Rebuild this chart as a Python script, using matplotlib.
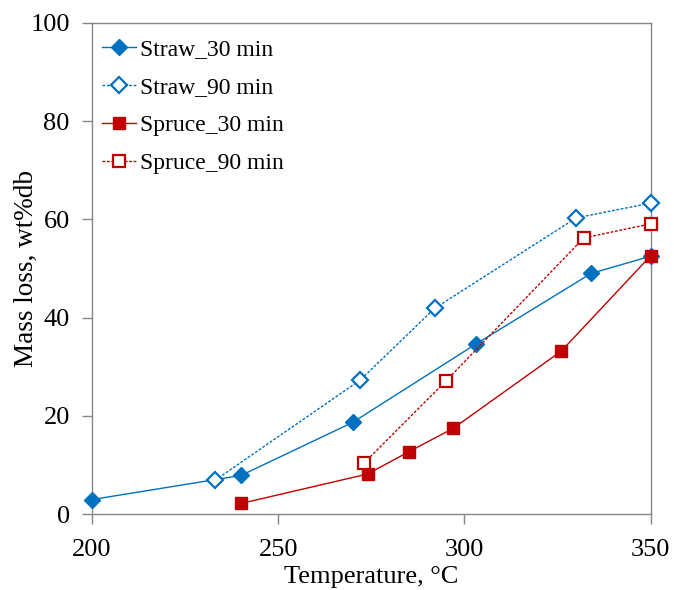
import matplotlib
matplotlib.use("Agg")
import matplotlib.pyplot as plt

# torrefaction mass loss vs temperature
straw30_t = [200, 240, 270, 303, 334, 350]
straw30_loss = [3.0, 7.9, 18.7, 34.6, 49.0, 52.5]

straw90_t = [233, 272, 292, 330, 350]
straw90_loss = [6.9, 27.3, 41.9, 60.3, 63.3]

spruce30_t = [240, 274, 285, 297, 326, 350]
spruce30_loss = [2.2, 8.2, 12.7, 17.5, 33.2, 52.6]

spruce90_t = [273, 295, 332, 350]
spruce90_loss = [10.4, 27.1, 56.2, 59.1]

xticks = [200, 250, 300, 350]
yticks = [0, 20, 40, 60, 80, 100]

blue = "#0070C0"
red = "#C00000"
axis_grey = "#868686"

plt.rcParams["font.family"] = ["Liberation Serif", "DejaVu Serif"]

fig = plt.figure(figsize=(6.74, 5.90), dpi=100)
ax = fig.add_axes([92 / 674, 1 - 514.3 / 590, 558.7 / 674, 491.6 / 590])

ax.plot(straw30_t, straw30_loss, color=blue, lw=1.0, marker="D", ms=8,
        mfc=blue, mec=blue, label="Straw_30 min", clip_on=False, zorder=3)
ax.plot(straw90_t, straw90_loss, color=blue, lw=1.0, ls=(0, (2, 1.2)), marker="D",
        ms=8, mfc="white", mec=blue, mew=1.6, label="Straw_90 min", clip_on=False, zorder=3)
ax.plot(spruce30_t, spruce30_loss, color=red, lw=1.0, marker="s", ms=9,
        mfc=red, mec=red, label="Spruce_30 min", clip_on=False, zorder=3)
ax.plot(spruce90_t, spruce90_loss, color=red, lw=1.0, ls=(0, (2, 1.2)), marker="s",
        ms=9, mfc="white", mec=red, mew=1.6, label="Spruce_90 min", clip_on=False, zorder=3)

ax.set_xlim(200, 350)
ax.set_ylim(0, 100)
ax.set_xticks(xticks)
ax.set_yticks(yticks)
ax.tick_params(axis="both", direction="out", length=7, width=1, color=axis_grey,
               labelsize=19)
ax.tick_params(axis="x", pad=11)
ax.tick_params(axis="y", pad=9)
for side in ["left", "bottom", "top", "right"]:
    ax.spines[side].set_color(axis_grey)
    ax.spines[side].set_linewidth(1.0)

ax.set_xlabel("Temperature, °C", fontsize=19)
ax.set_ylabel("Mass loss, wt%db", fontsize=19.5)
ax.xaxis.set_label_coords(0.5, -0.105)
ax.yaxis.set_label_coords(-0.095, 0.5)

ax.legend(loc="upper left", bbox_to_anchor=(101.7 / 674, 1 - 39 / 590),
          bbox_transform=fig.transFigure, frameon=False, fontsize=17,
          handlelength=1.44, handletextpad=0.2, labelspacing=0.69,
          borderpad=0, borderaxespad=0)

fig.savefig("out.png", dpi=100)
